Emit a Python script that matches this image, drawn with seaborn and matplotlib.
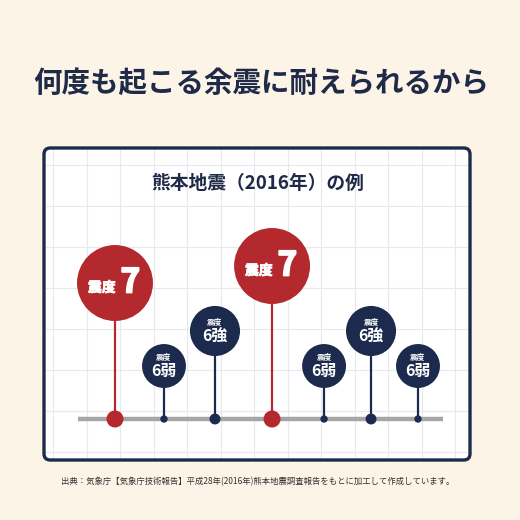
import numpy as np
import pandas as pd
import seaborn as sns
import matplotlib.pyplot as plt
import matplotlib.patheffects as pe
from matplotlib.patches import FancyBboxPatch

# data (schematic timeline of the 2016 Kumamoto earthquakes)
shindo = ["7", "6弱", "6強", "7", "6弱", "6強", "6弱"]
position = [0, 0.97, 1.98, 3.11, 4.14, 5.07, 6.0]
height = [13.6, 5.3, 8.8, 15.3, 5.3, 8.8, 5.3]

title = "何度も起こる余震に耐えられるから"
subtitle = "熊本地震（2016年）の例"
source = "出典：気象庁【気象庁技術報告】平成28年(2016年)熊本地震調査報告をもとに加工して作成しています。"

df = pd.DataFrame({"shindo": shindo, "pos": position, "h": height})
df["base"] = 0.0

RED = "#b3292e"
NAVY = "#1c2b4d"
BG = "#fcf5e7"
palette = {"7": RED, "6強": NAVY, "6弱": NAVY}
head_sizes = {"7": 2990, "6強": 1300, "6弱": 1000}
foot_sizes = {"7": 150, "6強": 62, "6弱": 28}

sns.set_theme(style="white")
plt.rcParams["font.family"] = ["Noto Sans CJK JP", "DejaVu Sans"]

W = 520
fig = plt.figure(figsize=(5.2, 5.2), dpi=100, facecolor=BG)

# panel in pixels
px0, py0, px1, py1 = 44, 148, 470, 460
rect = [px0 / W, 1 - py1 / W, (px1 - px0) / W, (py1 - py0) / W]

# grid layer
gax = fig.add_axes(rect)
gax.set_facecolor("white")
gax.set_xlim(0, px1 - px0)
gax.set_ylim(py1 - py0, 0)
gax.set_xticks(np.arange(9, px1 - px0, 33.5))
gax.set_yticks(np.arange(17, py1 - py0, 41))
gax.grid(True, color="#e8e9ed", lw=0.8)
gax.tick_params(length=0, labelbottom=False, labelleft=False)
for s in gax.spines.values():
    s.set_visible(False)

# data layer
ax = fig.add_axes(rect)
ax.patch.set_alpha(0)
unit = 50.5
ax.set_xlim((px0 - 115) / unit, (px1 - 115) / unit)
ax.set_ylim(-(py1 - 419) / 10, (419 - py0) / 10)
ax.axis("off")

ax.hlines(0, df.pos.min() - 0.73, df.pos.max() + 0.5, color="#a6a6a6", lw=3.2, zorder=1)
ax.vlines(df.pos, 0, df.h, colors=df.shindo.map(palette), lw=1.6, zorder=2)

sns.scatterplot(data=df, x="pos", y="base", hue="shindo", palette=palette,
                size="shindo", sizes=foot_sizes, linewidth=0, legend=False, ax=ax, zorder=3)
sns.scatterplot(data=df, x="pos", y="h", hue="shindo", palette=palette,
                size="shindo", sizes=head_sizes, linewidth=0, legend=False, ax=ax, zorder=4)

heavy = [pe.withStroke(linewidth=1.3, foreground="white")]
for _, r in df.iterrows():
    if r.shindo == "7":
        ax.annotate("震度", (r.pos, r.h), xytext=(-9.5, -3.5), textcoords="offset points",
                    ha="center", va="center", color="white", fontsize=10, fontweight="bold",
                    path_effects=[pe.withStroke(linewidth=0.5, foreground="white")], zorder=5)
        ax.annotate("7", (r.pos, r.h), xytext=(11, 0), textcoords="offset points",
                    ha="center", va="center", color="white", fontsize=24, fontweight="bold",
                    path_effects=heavy, zorder=5)
    else:
        ax.annotate("震度", (r.pos, r.h), xytext=(0, 7), textcoords="offset points",
                    ha="center", va="center", color="white", fontsize=5.5, fontweight="bold", zorder=5)
        ax.annotate(r.shindo, (r.pos, r.h), xytext=(0, -3.5), textcoords="offset points",
                    ha="center", va="center", color="white", fontsize=11.5, fontweight="bold", zorder=5)

# panel border
fig.patches.append(FancyBboxPatch((rect[0], rect[1]), rect[2], rect[3],
                                  boxstyle="round,pad=0,rounding_size=0.012",
                                  transform=fig.transFigure, fill=False,
                                  ec=NAVY, lw=2.4, zorder=10))

fig.text(261 / W, 1 - 84 / W, title, ha="center", va="center",
         fontsize=20.5, fontweight="bold", color="#1f2a48")
fig.text(258 / W, 1 - 183 / W, subtitle, ha="center", va="center",
         fontsize=13.5, fontweight="bold", color="#1f2a48")
fig.text(258 / W, 1 - 482 / W, source, ha="center", va="center",
         fontsize=6, color="#333333")

fig.savefig("out.png", dpi=100, facecolor=BG)
